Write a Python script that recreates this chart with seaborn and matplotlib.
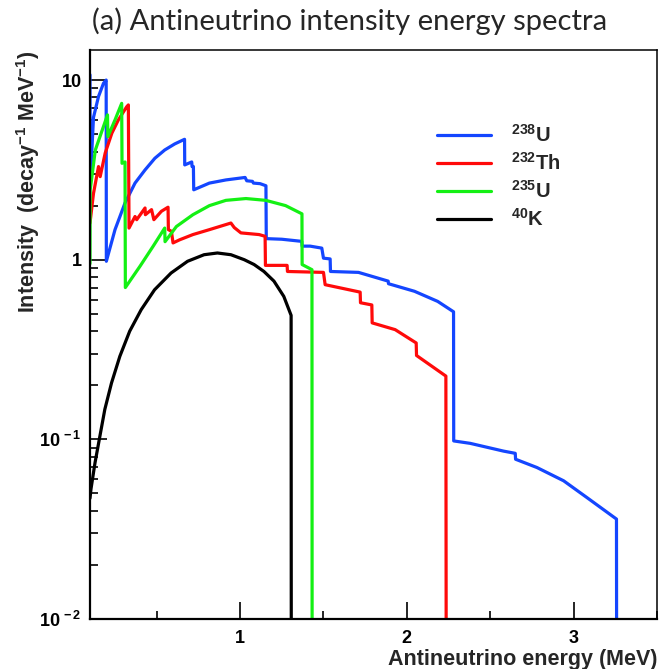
import matplotlib
matplotlib.use('Agg')
import matplotlib.pyplot as plt
from matplotlib.ticker import LogLocator, NullFormatter
import seaborn as sns
import pandas as pd

# --- DADOS (energia em MeV, intensidade em decay^-1 MeV^-1) ---
u238_e = [0.100, 0.101, 0.121, 0.151, 0.181, 0.197, 0.198, 0.25, 0.31, 0.37, 0.43, 0.489,
          0.548, 0.608, 0.667, 0.668, 0.710, 0.712, 0.720, 0.722, 0.816, 0.915, 1.005, 1.03,
          1.04, 1.074, 1.08, 1.12, 1.155, 1.157, 1.25, 1.37, 1.372, 1.42, 1.49, 1.50, 1.54,
          1.542, 1.71, 1.888, 1.89, 2.046, 2.185, 2.28, 2.281, 2.38, 2.58, 2.65, 2.652, 2.78,
          2.94, 3.08, 3.257, 3.258]
u238_i = [10.7, 2.6, 6.2, 8.1, 9.6, 10.0, 0.98, 1.47, 2.07, 2.67, 3.16, 3.67,
          4.08, 4.41, 4.68, 3.37, 3.5, 3.3, 3.3, 2.45, 2.67, 2.78, 2.85, 2.87,
          2.75, 2.73, 2.67, 2.65, 2.58, 1.31, 1.30, 1.265, 1.19, 1.19, 1.16, 1.02, 1.01,
          0.86, 0.85, 0.76, 0.735, 0.667, 0.586, 0.513, 0.098, 0.095, 0.086, 0.0836, 0.0775, 0.0697,
          0.0588, 0.0474, 0.036, 0.005]

th232_e = [0.100, 0.121, 0.151, 0.161, 0.191, 0.231, 0.27, 0.32, 0.33, 0.334, 0.37, 0.38,
           0.43, 0.432, 0.469, 0.483, 0.528, 0.568, 0.570, 0.588, 0.598, 0.637, 0.717, 0.816,
           0.945, 0.965, 1.005, 1.114, 1.15, 1.152, 1.282, 1.284, 1.50, 1.51, 1.72, 1.722,
           1.79, 1.792, 1.93, 2.056, 2.058, 2.234, 2.236]
th232_i = [1.6, 2.34, 3.3, 2.9, 3.92, 5.06, 6.0, 7.1, 7.27, 1.5, 1.74, 1.67,
           1.94, 1.78, 1.9, 1.67, 1.86, 1.96, 1.47, 1.44, 1.24, 1.29, 1.38, 1.47,
           1.6, 1.51, 1.41, 1.38, 1.35, 0.93, 0.93, 0.86, 0.85, 0.726, 0.66, 0.576,
           0.56, 0.445, 0.408, 0.344, 0.293, 0.225, 0.005]

u235_e = [0.100, 0.101, 0.132, 0.205, 0.207, 0.25, 0.29, 0.292, 0.31, 0.312, 0.40, 0.479,
          0.548, 0.550, 0.618, 0.717, 0.816, 0.915, 1.035, 1.154, 1.273, 1.371, 1.372, 1.431,
          1.432]
u235_i = [0.95, 2.44, 4.08, 6.4, 4.84, 6.0, 7.42, 3.44, 3.5, 0.70, 0.92, 1.19,
          1.5, 1.26, 1.53, 1.78, 2.0, 2.14, 2.19, 2.14, 2.0, 1.8, 0.94, 0.88,
          0.005]

k40_e = [0.100, 0.106, 0.13, 0.16, 0.189, 0.229, 0.279, 0.338, 0.407, 0.487, 0.586, 0.685,
         0.784, 0.864, 0.945, 1.025, 1.084, 1.143, 1.203, 1.262, 1.306, 1.307]
k40_i = [0.047, 0.053, 0.074, 0.105, 0.147, 0.206, 0.29, 0.40, 0.527, 0.68, 0.843, 0.98,
         1.066, 1.09, 1.066, 1.0, 0.94, 0.86, 0.76, 0.625, 0.49, 0.005]

isotopos = ['$^{238}$U', '$^{232}$Th', '$^{235}$U', '$^{40}$K']
cores = ['#1446ff', '#ff0a0a', '#14f014', '#000000']

# --- MONTA O DATAFRAME LONGO ---
partes = []
for nome, e, i in zip(isotopos, [u238_e, th232_e, u235_e, k40_e], [u238_i, th232_i, u235_i, k40_i]):
    partes.append(pd.DataFrame({'energia': e, 'intensidade': i, 'isotopo': nome}))
df = pd.concat(partes, ignore_index=True)

# --- ESTILO (ticks para dentro, como no ROOT) ---
sns.set_theme(style="white")
plt.rcParams.update({
    'font.family': ['Liberation Sans', 'DejaVu Sans'],
    'font.weight': 'bold',
    'mathtext.fontset': 'custom',
    'mathtext.rm': 'Liberation Sans:bold',
    'mathtext.bf': 'Liberation Sans:bold',
    'mathtext.it': 'Liberation Sans:bold',
    'mathtext.sf': 'Liberation Sans:bold',
    'xtick.bottom': True, 'ytick.left': True,
    'xtick.direction': 'in', 'ytick.direction': 'in',
    'xtick.major.size': 12, 'ytick.major.size': 12,
    'xtick.minor.size': 6, 'ytick.minor.size': 6,
    'xtick.major.width': 1.2, 'ytick.major.width': 1.2,
    'xtick.minor.width': 1.2, 'ytick.minor.width': 1.2,
    'xtick.color': 'black', 'ytick.color': 'black',
    'xtick.labelsize': 13, 'ytick.labelsize': 13,
    'xtick.major.pad': 8, 'ytick.major.pad': 6,
})

fig = plt.figure(figsize=(6.61, 6.69), dpi=100)
ax = fig.add_axes([90 / 661, 50 / 669, 567 / 661, 569 / 669])

sns.lineplot(
    data=df, x='energia', y='intensidade', hue='isotopo',
    hue_order=isotopos, palette=cores,
    estimator=None, sort=False, linewidth=2.3, ax=ax
)

ax.set_yscale('log')
ax.set_xlim(0.1, 3.477)
ax.set_ylim(0.01, 14.7)

ax.set_xticks([1, 2, 3])
ax.set_xticklabels(['1', '2', '3'])
ax.set_xticks([0.5, 1.5, 2.5, 3.5], minor=True)
ax.set_yticks([0.01, 0.1, 1, 10])
ax.set_yticklabels([r'$10^{\,-2}$', r'$10^{\,-1}$', '1', '10'])
ax.yaxis.set_minor_locator(LogLocator(base=10, subs=[2, 3, 4, 5, 6, 7, 8, 9]))
ax.yaxis.set_minor_formatter(NullFormatter())

for s in ax.spines.values():
    s.set_color('black')
    s.set_linewidth(1.1)
ax.spines['bottom'].set_linewidth(1.6)
ax.spines['left'].set_linewidth(1.6)

ax.set_xlabel('Antineutrino energy (MeV)', fontsize=15.5, fontweight='bold', loc='right', labelpad=1)
ax.set_ylabel('Intensity  (decay$^{-1}$ MeV$^{-1}$)', fontsize=15.5, fontweight='bold', loc='top', labelpad=-2)

ax.legend(loc='upper left', bbox_to_anchor=(0.58, 0.902), frameon=False, fontsize=14.5,
          handlelength=2.7, handletextpad=1.0, labelspacing=0.3)

fig.text(92 / 661, 1 - 21 / 669, '(a) Antineutrino intensity energy spectra',
         fontsize=21, fontweight='normal', family=['Lato', 'DejaVu Sans'], va='center', ha='left')

fig.savefig('out.png', dpi=100)
